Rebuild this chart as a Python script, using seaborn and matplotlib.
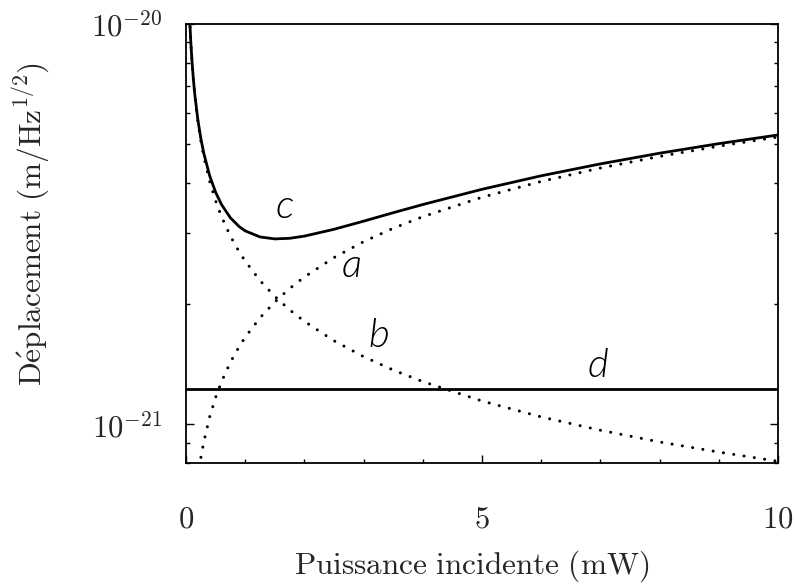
import numpy as np
import pandas as pd
import seaborn as sns
import matplotlib
matplotlib.use("Agg")
import matplotlib.pyplot as plt
from matplotlib.ticker import NullFormatter, MultipleLocator, LogLocator

# values (x in mW, y in 1e-21 m/Hz^1/2)
power = [0.06, 0.08, 0.1, 0.125, 0.15, 0.2, 0.25, 0.3, 0.4, 0.5, 0.6, 0.75, 0.9,
         1.0, 1.25, 1.5, 1.75, 2.0, 2.5, 3.0, 3.5, 4.0, 5.0, 6.0, 7.0, 8.0, 9.0, 10.0]
curve_a = [0.404, 0.467, 0.522, 0.583, 0.639, 0.738, 0.825, 0.904, 1.044, 1.167, 1.278,
           1.429, 1.565, 1.650, 1.845, 2.021, 2.183, 2.333, 2.609, 2.858, 3.087, 3.300,
           3.690, 4.042, 4.366, 4.667, 4.950, 5.218]
curve_b = [10.43, 9.034, 8.080, 7.226, 6.597, 5.713, 5.110, 4.665, 4.040, 3.613, 3.298,
           2.950, 2.693, 2.555, 2.285, 2.086, 1.931, 1.807, 1.616, 1.475, 1.366, 1.278,
           1.143, 1.043, 0.966, 0.903, 0.852, 0.808]
curve_c = [10.44, 9.046, 8.097, 7.250, 6.628, 5.761, 5.176, 4.752, 4.173, 3.797, 3.537,
           3.278, 3.115, 3.041, 2.937, 2.904, 2.914, 2.951, 3.069, 3.216, 3.376, 3.539,
           3.863, 4.175, 4.471, 4.754, 5.023, 5.280]
level_d = 1.223
d_range = [0.0, 10.0]

labels = ["a", "b", "c", "d"]
label_x = [2.80, 3.26, 1.67, 6.96]
label_y = [2.33, 1.56, 3.27, 1.31]

sns.set_style("ticks")
plt.rcParams["mathtext.fontset"] = "cm"
plt.rcParams["font.family"] = ["DejaVu Sans"]

df = pd.DataFrame({"P": power,
                   "a": np.array(curve_a) * 1e-21,
                   "b": np.array(curve_b) * 1e-21,
                   "c": np.array(curve_c) * 1e-21})
df_d = pd.DataFrame({"P": d_range, "d": [level_d * 1e-21] * 2})

fig = plt.figure(figsize=(7.95, 5.87), dpi=100)
ax = fig.add_axes([0.234, 0.2112, 0.7446, 0.748])

dots = (0, (0.01, 3.4))
sns.lineplot(data=df, x="P", y="a", ax=ax, color="black", linewidth=2.2,
             linestyle=dots, dash_capstyle="round")
sns.lineplot(data=df, x="P", y="b", ax=ax, color="black", linewidth=2.2,
             linestyle=dots, dash_capstyle="round")
sns.lineplot(data=df, x="P", y="c", ax=ax, color="black", linewidth=2.0)
sns.lineplot(data=df_d, x="P", y="d", ax=ax, color="black", linewidth=2.0)

ax.set_yscale("log")
ax.set_xlim(0, 10)
ax.set_ylim(8e-22, 1e-20)

ax.set_xticks([0, 5, 10])
ax.set_xticklabels([r"$0$", r"$5$", r"$10$"])
ax.xaxis.set_minor_locator(MultipleLocator(1))
ax.set_yticks([1e-21, 1e-20])
ax.set_yticklabels([r"$10^{-21}$", r"$10^{-20}$"])
ax.yaxis.set_minor_locator(LogLocator(base=10, subs=np.arange(2, 10)))
ax.yaxis.set_minor_formatter(NullFormatter())

ax.tick_params(axis="both", which="both", direction="in", width=1.0, color="black")
ax.tick_params(axis="both", which="major", length=6, labelsize=22)
ax.tick_params(axis="both", which="minor", length=3)
ax.tick_params(axis="x", which="both", top=False, pad=30)
ax.tick_params(axis="y", which="both", right=True, pad=17)

for s in ax.spines.values():
    s.set_linewidth(1.3)
    s.set_color("black")

ax.set_xlabel(r"$\mathrm{Puissance\ incidente\ (mW)}$", fontsize=22.5)
ax.set_ylabel(r"$\mathrm{D\acute{e}placement\ (m/Hz^{1/2})}$", fontsize=22.5)
ax.xaxis.set_label_coords(0.483, -0.195)
ax.yaxis.set_label_coords(-0.228, 0.545)

for lab, lx, ly in zip(labels, label_x, label_y):
    ax.text(lx, ly * 1e-21, lab, fontsize=29, family="Lato", style="italic",
            fontweight=300, ha="center", va="baseline", color="black")

fig.savefig("out.png", dpi=100)
